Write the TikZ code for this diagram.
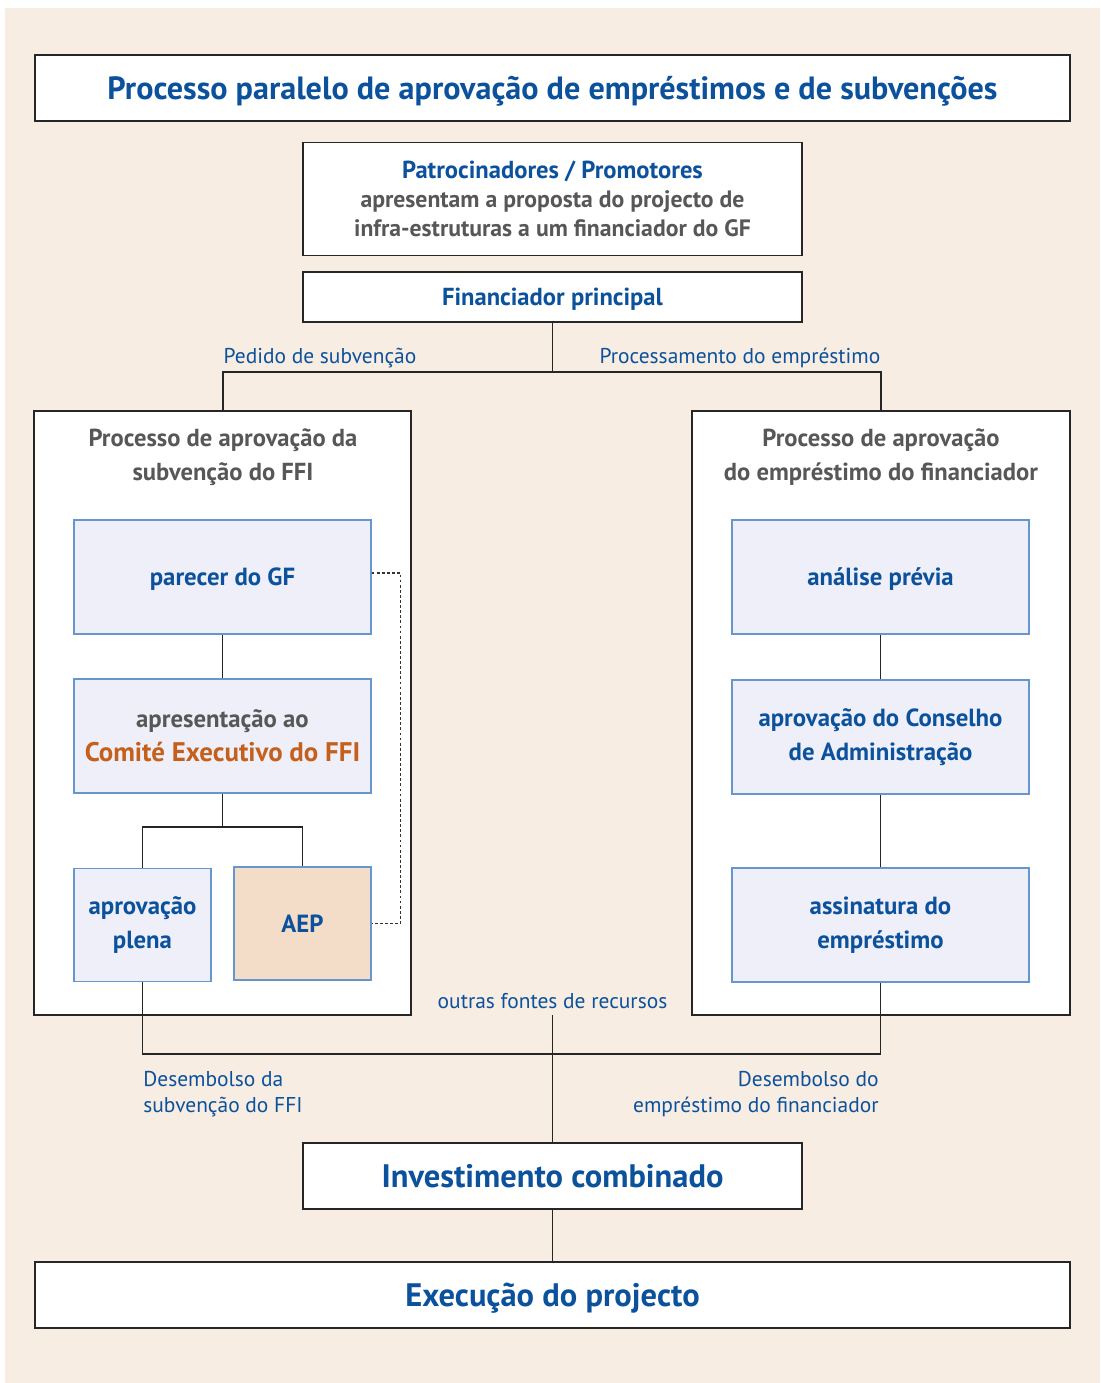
\documentclass[tikz,border=0pt]{standalone}
\usepackage{fontspec}
\setmainfont{PT Sans}
\usepackage{xcolor}
\usepackage{tikz}

\definecolor{pagebeige}{HTML}{F7EDE3}
\definecolor{ffiblue}{HTML}{0B519C}
\definecolor{ffigray}{HTML}{575757}
\definecolor{ffiorange}{HTML}{C4601C}
\definecolor{stagefill}{HTML}{EEEFF8}
\definecolor{stageline}{HTML}{6596CE}
\definecolor{aepfill}{HTML}{F3DCC8}

\begin{document}
\begin{tikzpicture}[x=0.02cm, y=-0.02cm, line join=miter,
    frame/.style={draw=black!85, fill=white, line width=0.7pt, inner sep=0pt, align=center},
    stage/.style={draw=stageline, fill=stagefill, line width=0.8pt, inner sep=0pt, align=center,
      minimum width=5.94cm, minimum height=2.28cm, text=ffiblue,
      font=\bfseries\fontsize{14.1}{19.5}\selectfont},
    small stage/.style={stage, minimum width=2.74cm, minimum height=2.26cm},
    link/.style={draw=black!85, line width=0.6pt},
    flowlabel/.style={text=ffiblue, inner sep=0pt, font=\fontsize{12.2}{14.5}\selectfont},
    headtext/.style={text=ffigray, inner sep=0pt, align=center, font=\bfseries\fontsize{14}{19.5}\selectfont}]

    % Page
    \useasboundingbox (0,0) rectangle (1100,1383);
    \fill[pagebeige] (5,8) rectangle (1100,1383);

    % Nodes
    \node[frame, minimum width=20.7cm, minimum height=1.32cm, text depth=0pt, text=ffiblue,
      font=\bfseries\fontsize{18.3}{20}\selectfont] (title) at (552.5,88)
      {Processo paralelo de aprovação de empréstimos e de subvenções};
    \node[frame, minimum width=9.98cm, minimum height=2.26cm,
      font=\bfseries\fontsize{13.5}{16.7}\selectfont] (sponsors) at (552.5,199)
      {\textcolor{ffiblue}{\fontsize{14}{16.7}\selectfont Patrocinadores / Promotores}\\
       \textcolor{ffigray}{apresentam a proposta do projecto de}\\
       \textcolor{ffigray}{infra-estruturas a um financiador do GF}};
    \node[frame, minimum width=9.98cm, minimum height=1.0cm, text depth=0pt, text=ffiblue,
      font=\bfseries\fontsize{14}{16}\selectfont] (lender) at (552.5,297) {Financiador principal};

    \node[frame, minimum width=7.54cm, minimum height=12.08cm] (grantbox) at (222.5,713) {};
    \node[frame, minimum width=7.56cm, minimum height=12.08cm] (loanbox) at (881,713) {};
    \node[headtext] (granthead) at (223,457) {Processo de aprovação da\\subvenção do FFI};
    \node[headtext] (loanhead) at (881,457) {Processo de aprovação\\do empréstimo do financiador};

    \node[stage, text depth=0pt] (opinion) at (222.5,577) {parecer do GF};
    \node[stage] (committee) at (222.5,736)
      {\textcolor{ffigray}{apresentação ao}\\
       \textcolor{ffiorange}{\fontsize{15.3}{19.5}\selectfont Comité Executivo do FFI}};
    \node[small stage] (full) at (142.5,925) {aprovação\\plena};
    \node[small stage, fill=aepfill, text depth=0pt] (aep) at (302.5,923.5) {AEP};

    \node[stage, text depth=0pt] (review) at (880.5,577) {análise prévia};
    \node[stage] (board) at (880.5,737) {aprovação do Conselho\\de Administração};
    \node[stage] (signing) at (880.5,925) {assinatura do\\empréstimo};

    \node[flowlabel] (grantreq) at (320,358) {Pedido de subvenção};
    \node[flowlabel] (loanproc) at (740,358) {Processamento do empréstimo};
    \node[flowlabel] (others) at (552.5,1001) {outras fontes de recursos};
    \node[flowlabel, anchor=north west, align=left] (grantpay) at (143,1071)
      {Desembolso da\\subvenção do FFI};
    \node[flowlabel, anchor=north east, align=right] (loanpay) at (879,1071)
      {Desembolso do\\empréstimo do financiador};

    \node[frame, minimum width=9.98cm, minimum height=1.32cm, text depth=0pt, text=ffiblue,
      font=\bfseries\fontsize{18.5}{20}\selectfont] (invest) at (552.5,1176) {Investimento combinado};
    \node[frame, minimum width=20.7cm, minimum height=1.32cm, text depth=0pt, text=ffiblue,
      font=\bfseries\fontsize{18.5}{20}\selectfont] (exec) at (552.5,1295) {Execução do projecto};

    \coordinate (fork) at (552.5,372);
    \coordinate (split) at (222.5,827);
    \coordinate (merge) at (552.5,1054);

    % Connections
    \draw[link] (lender.south) -- (fork);
    \draw[link] (grantbox.north -| granthead) |- (fork) -| (loanbox.north -| loanhead);
    \draw[link] (opinion) -- (committee);
    \draw[link] (committee) -- (split);
    \draw[link] (full.north) |- (split) -| (aep.north);
    \draw[link] (review) -- (board);
    \draw[link] (board) -- (signing);
    \draw[link] (full.south) |- (merge) -| (signing.south);
    \draw[link] (others.south) ++(0,6) -- (invest.north);
    \draw[link] (invest) -- (exec);
    \draw[draw=black!80, line width=0.6pt, dash pattern=on 1.6pt off 1.3pt]
      (opinion.east) ++(0,-4) -- ++(29,0) |- (aep.east);
  \end{tikzpicture}
\end{document}
